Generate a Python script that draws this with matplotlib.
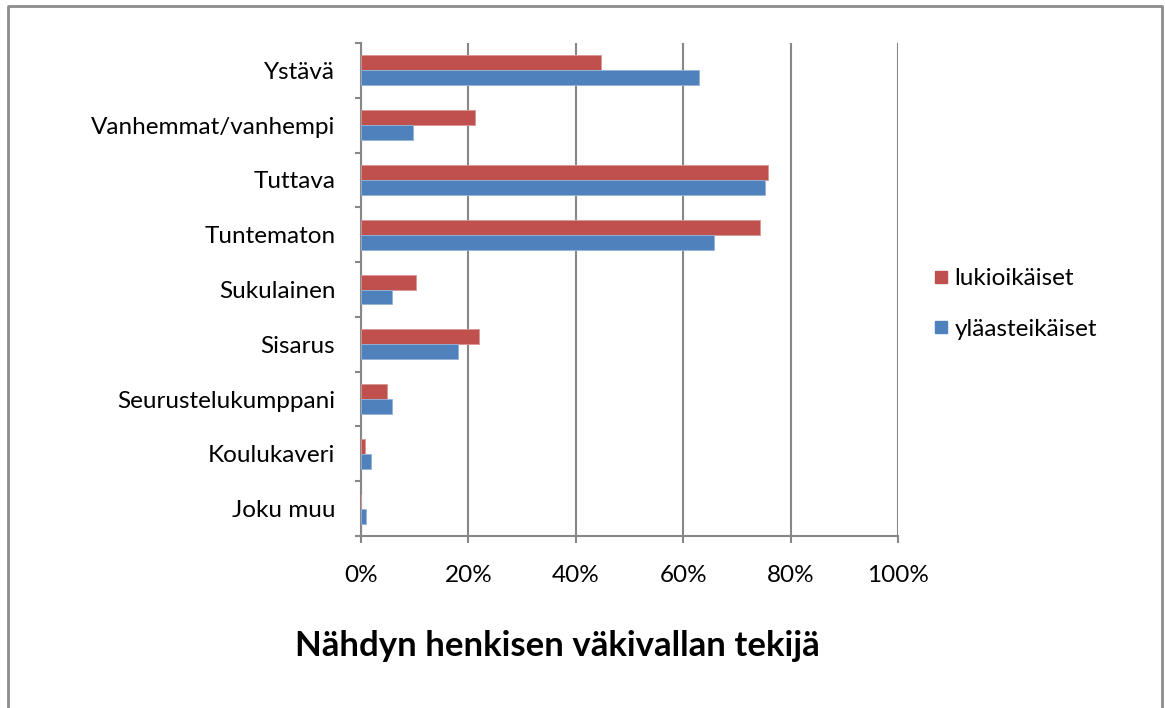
import matplotlib
matplotlib.use("Agg")
import matplotlib.pyplot as plt
import numpy as np
from matplotlib.lines import Line2D

categories = ["Ystävä", "Vanhemmat/vanhempi", "Tuttava", "Tuntematon", "Sukulainen",
              "Sisarus", "Seurustelukumppani", "Koulukaveri", "Joku muu"]
lukio = [44.6, 21.2, 75.8, 74.3, 10.3, 21.9, 4.8, 0.8, 0.0]
ylaaste = [63.0, 9.6, 75.2, 65.7, 5.8, 18.1, 5.8, 1.9, 1.0]
xticks = [0, 20, 40, 60, 80, 100]
xticklabels = ["0%", "20%", "40%", "60%", "80%", "100%"]
series_names = ["lukioikäiset", "yläasteikäiset"]
title = "Nähdyn henkisen väkivallan tekijä"

RED = "#C0504D"
BLUE = "#4F81BD"
GRID = "#878787"

plt.rcParams['font.family'] = ['Lato', 'DejaVu Sans']

W, H = 1165, 708
FS = 17.5
fig = plt.figure(figsize=(W / 100, H / 100), dpi=100)
ax = fig.add_axes([361 / W, 1 - 536 / H, (898 - 361) / W, (536 - 43) / H])

n = len(categories)
pos = np.arange(n)[::-1]  # first category at top
bh = 0.273
ax.barh(pos + bh / 2, lukio, height=bh, color=RED, edgecolor="#D99694", linewidth=0.6, zorder=3)
ax.barh(pos - bh / 2, ylaaste, height=bh, color=BLUE, edgecolor="#95B3D7", linewidth=0.6, zorder=3)

ax.set_xlim(0, 100)
ax.set_ylim(-0.5, n - 0.5)
ax.set_xticks(xticks)
ax.set_xticklabels(xticklabels, fontsize=FS)
ax.set_yticks(pos)
ax.set_yticklabels(categories, fontsize=FS)
ax.set_yticks(np.arange(n + 1) - 0.5, minor=True)

ax.tick_params(axis='y', which='major', length=0, pad=18.5)
ax.tick_params(axis='y', which='minor', length=4.5, width=1.5, color=GRID, direction='out')
ax.tick_params(axis='x', which='major', length=5, width=1.5, color=GRID, direction='out', pad=16)

ax.xaxis.grid(True, color=GRID, linewidth=1.5, zorder=0)
ax.set_axisbelow(True)
for s in ["top", "right"]:
    ax.spines[s].set_visible(False)
for s in ["left", "bottom"]:
    ax.spines[s].set_color(GRID)
    ax.spines[s].set_linewidth(1.5)

# legend
handles = [Line2D([], [], marker='s', linestyle='', markersize=8.8, color=RED),
           Line2D([], [], marker='s', linestyle='', markersize=8.8, color=BLUE)]
fig.legend(handles, series_names, loc='center left', bbox_to_anchor=(912 / W, 1 - 304 / H),
           frameon=False, fontsize=FS, handletextpad=0.25, labelspacing=1.2, handlelength=0.6)

fig.text(557 / W, 1 - 646 / H, title, ha='center', va='center', fontsize=25, fontweight='bold')

# outer border (open at the bottom)
bx0, by0, bx1 = 8 / W, 1 - 6 / H, 1162 / W
fig.add_artist(Line2D([bx0, bx0, bx1, bx1], [0, by0, by0, 0], color="#8C8C8C", linewidth=2,
                      transform=fig.transFigure))

fig.savefig("out.png", dpi=100)
